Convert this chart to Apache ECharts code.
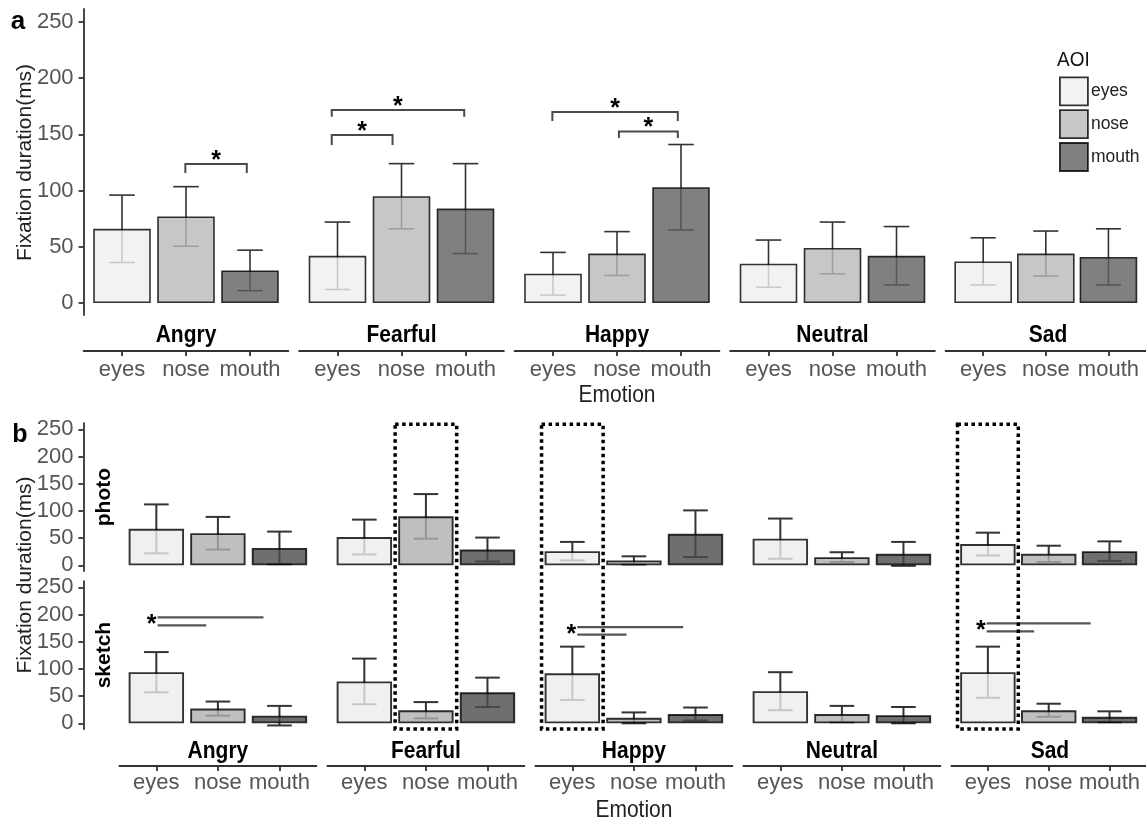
<!DOCTYPE html>
<html><head><meta charset="utf-8">
<script src="https://cdn.jsdelivr.net/npm/echarts@6/dist/echarts.min.js"></script>
<style>html,body{margin:0;padding:0;background:#fff}#c{width:1146px;height:823px}</style>
</head><body><div id="c"></div>
<script>
// ---------- data ----------
const emotions = ['Angry', 'Fearful', 'Happy', 'Neutral', 'Sad'];
const aois = ['eyes', 'nose', 'mouth'];
const yTicks = [0, 50, 100, 150, 200, 250];

// panel a (all stimuli): mean and error
const aEyesMean = [66, 42, 26, 35, 37];
const aEyesErr = [30, 30, 19, 21, 21];
const aNoseMean = [77, 95, 44, 49, 44];
const aNoseErr = [26.5, 29, 19.5, 23, 20];
const aMouthMean = [29, 84, 103, 42, 41];
const aMouthErr = [18, 40, 38, 26, 25];

// panel b, photo
const photoEyesMean = [67, 52, 26, 49, 39];
const photoEyesErr = [45, 32, 17, 37, 21];
const photoNoseMean = [59, 90, 9, 15, 21];
const photoNoseErr = [30, 41, 7.5, 9, 15];
const photoMouthMean = [32, 29, 58, 21, 26];
const photoMouthErr = [30, 22, 43, 22, 18];

// panel b, sketch
const sketchEyesMean = [94, 77, 92, 59, 94];
const sketchEyesErr = [37, 42, 49, 35, 47];
const sketchNoseMean = [27, 24, 10, 17, 24];
const sketchNoseErr = [13, 15, 10, 15, 12];
const sketchMouthMean = [14, 57, 17, 15, 12];
const sketchMouthErr = [18, 27, 12, 15, 10];

// significance brackets, panel a
const aSigFacet = [0, 1, 1, 2, 2];
const aSigX1 = [1.99, 0.91, 0.91, 0.99, 2.03];
const aSigX2 = [2.95, 1.86, 2.98, 2.95, 2.95];
const aSigY = [123.7, 149.5, 171.7, 169.9, 152.7];
const aSigDrop = [8, 9, 6, 8, 6];

// significance lines, panel b sketch row
const bSigFacet = [0, 2, 4];
const bSigX1 = [1.02, 1.08, 0.98];
const bSigUpX2 = [2.74, 2.80, 2.69];
const bSigUpY = [195, 177, 184];
const bSigLoX2 = [1.81, 1.88, 1.76];
const bSigLoY = [180, 163, 169];

// dotted highlight boxes (facet, AOI position)
const boxFacet = [1, 2, 4];
const boxAoi = [2, 1, 1];
const boxTop = 259.4;
const boxBottom = -10.5;

// ---------- style / layout ----------
const FONT = "'Liberation Sans', Arial, sans-serif";
const TICK_COLOR = '#555';
const AX_COLOR = '#333';
const Y_MIN = -10.7, Y_MAX = 261.6;
const A = { top: 9, height: 306, left0: 83.6, step: 215.5, width: 204.8, xOff: 36, barW: 57.6, margin: 7.5, border: 1.6, err: 1.6 };
const B = { left0: 119.4, step: 208, width: 197, xOff: 37, yOff: 36, barW: 55.4, margin: 5.5, border: 1.9, err: 2 };
const PH = { top: 423.1, height: 148 };
const SK = { top: 581.1, height: 148 };
const fillA = ['rgba(239,239,239,0.8)', 'rgba(185,185,185,0.8)', 'rgba(96,96,96,0.8)'];
const fillB = ['rgba(236,236,236,0.8)', 'rgba(175,175,175,0.8)', 'rgba(75,75,75,0.8)'];

const grids = [], xAxes = [], yAxes = [], series = [];

function errRender(lw) {
  return function (params, api) {
    const x = api.value(0), m = api.value(1), e = api.value(2);
    const top = api.coord([x, m + e]);
    const bot = api.coord([x, m - e]);
    const l = api.coord([x - 0.2, m])[0], r = api.coord([x + 0.2, m])[0];
    const st = { stroke: AX_COLOR, lineWidth: lw };
    return { type: 'group', children: [
      { type: 'line', shape: { x1: top[0], y1: top[1], x2: bot[0], y2: bot[1] }, style: st },
      { type: 'line', shape: { x1: l, y1: top[1], x2: r, y2: top[1] }, style: st },
      { type: 'line', shape: { x1: l, y1: bot[1], x2: r, y2: bot[1] }, style: st }
    ] };
  };
}

function addFacet(g, k, cfg, top, height, means, errs, fills, showX, showY) {
  grids.push({ left: cfg.left0 + k * cfg.step, top: top, width: cfg.width, height: height });
  xAxes.push({
    type: 'value', gridIndex: g, min: 0.4, max: 3.6, show: showX, offset: cfg.xOff,
    axisLine: { show: true, onZero: false, lineStyle: { color: AX_COLOR, width: 1.8 } },
    axisTick: { show: true, customValues: [1, 2, 3], length: 5, lineStyle: { color: AX_COLOR, width: 1.8 } },
    axisLabel: { customValues: [1, 2, 3], formatter: v => aois[Math.round(v) - 1], margin: cfg.margin,
      fontSize: 22, color: TICK_COLOR, fontFamily: FONT },
    splitLine: { show: false }
  });
  yAxes.push({
    type: 'value', gridIndex: g, min: Y_MIN, max: Y_MAX, show: showY, offset: cfg.yOff || 0,
    axisLine: { show: true, onZero: false, lineStyle: { color: AX_COLOR, width: 1.8 } },
    axisTick: { show: true, customValues: yTicks, length: 5, lineStyle: { color: AX_COLOR, width: 1.8 } },
    axisLabel: { customValues: yTicks, margin: 10, fontSize: 22, color: TICK_COLOR, fontFamily: FONT },
    splitLine: { show: false }
  });
  for (let j = 0; j < 3; j++) {
    series.push({
      type: 'bar', name: aois[j], xAxisIndex: g, yAxisIndex: g, silent: true, z: 2,
      barWidth: cfg.barW, barGap: '-100%',
      data: [[j + 1, means[j][k]]],
      itemStyle: { color: fills[j], borderColor: 'rgba(0,0,0,0.8)', borderWidth: cfg.border }
    });
  }
  series.push({
    type: 'custom', xAxisIndex: g, yAxisIndex: g, z: 1, silent: true,
    renderItem: errRender(cfg.err),
    data: [[1, means[0][k], errs[0][k]], [2, means[1][k], errs[1][k]], [3, means[2][k], errs[2][k]]]
  });
}

const aMeans = [aEyesMean, aNoseMean, aMouthMean], aErrs = [aEyesErr, aNoseErr, aMouthErr];
const pMeans = [photoEyesMean, photoNoseMean, photoMouthMean], pErrs = [photoEyesErr, photoNoseErr, photoMouthErr];
const sMeans = [sketchEyesMean, sketchNoseMean, sketchMouthMean], sErrs = [sketchEyesErr, sketchNoseErr, sketchMouthErr];

for (let k = 0; k < 5; k++) addFacet(k, k, A, A.top, A.height, aMeans, aErrs, fillA, true, k === 0);
for (let k = 0; k < 5; k++) addFacet(5 + k, k, B, PH.top, PH.height, pMeans, pErrs, fillB, false, k === 0);
for (let k = 0; k < 5; k++) addFacet(10 + k, k, B, SK.top, SK.height, sMeans, sErrs, fillB, true, k === 0);

// panel a brackets
for (let i = 0; i < aSigFacet.length; i++) {
  const g = aSigFacet[i];
  series.push({
    type: 'custom', xAxisIndex: g, yAxisIndex: g, z: 3, silent: true,
    data: [[aSigX1[i], aSigX2[i], aSigY[i], aSigDrop[i]]],
    renderItem: function (params, api) {
      const x1 = api.value(0), x2 = api.value(1), y = api.value(2), d = api.value(3);
      const p1 = api.coord([x1, y - d]), p2 = api.coord([x1, y]), p3 = api.coord([x2, y]), p4 = api.coord([x2, y - d]);
      return { type: 'group', children: [
        { type: 'polyline', shape: { points: [p1, p2, p3, p4] }, style: { stroke: '#4a4a4a', lineWidth: 2, fill: null } },
        { type: 'text', x: (p2[0] + p3[0]) / 2, y: p2[1] - 3,
          style: { text: '*', font: 'bold 25px ' + FONT, fill: '#000', align: 'center', verticalAlign: 'middle' } }
      ] };
    }
  });
}
// panel b sketch sig lines
for (let i = 0; i < bSigFacet.length; i++) {
  const g = 10 + bSigFacet[i];
  series.push({
    type: 'custom', xAxisIndex: g, yAxisIndex: g, z: 3, silent: true,
    data: [[bSigX1[i], bSigUpX2[i], bSigUpY[i], bSigLoX2[i], bSigLoY[i]]],
    renderItem: function (params, api) {
      const x1 = api.value(0);
      const u1 = api.coord([x1, api.value(2)]), u2 = api.coord([api.value(1), api.value(2)]);
      const l1 = api.coord([x1, api.value(4)]), l2 = api.coord([api.value(3), api.value(4)]);
      const st = { stroke: '#555', lineWidth: 2.2 };
      return { type: 'group', children: [
        { type: 'line', shape: { x1: u1[0], y1: u1[1], x2: u2[0], y2: u2[1] }, style: st },
        { type: 'line', shape: { x1: l1[0], y1: l1[1], x2: l2[0], y2: l2[1] }, style: st },
        { type: 'text', x: u1[0] - 1, y: (u1[1] + l1[1]) / 2 + 4,
          style: { text: '*', font: 'bold 25px ' + FONT, fill: '#000', align: 'right', verticalAlign: 'middle' } }
      ] };
    }
  });
}

// ---------- texts ----------
const texts = [];
function txt(id, s, x, y, font, fill, align, rot, sy) {
  texts.push({ type: 'text', id: id, x: x, y: y, rotation: rot || 0, scaleY: sy || 1, silent: true, z: 10,
    style: { text: s, font: font, fill: fill, align: align || 'center', verticalAlign: 'middle' } });
}
txt('lab_a', 'a', 18, 21.5, 'bold 26px ' + FONT, '#000');
txt('lab_b', 'b', 20, 435, 'bold 25px ' + FONT, '#000');
txt('ytA', 'Fixation duration(ms)', 25, 162.5, '21px ' + FONT, '#222', 'center', Math.PI / 2);
txt('ytB', 'Fixation duration(ms)', 25, 575, '21px ' + FONT, '#222', 'center', Math.PI / 2);
for (let k = 0; k < 5; k++) {
  txt('stA' + k, emotions[k], A.left0 + k * A.step + A.width / 2, 336, 'bold 21px ' + FONT, '#000', 'center', 0, 1.1);
  txt('stB' + k, emotions[k], B.left0 + k * B.step + B.width / 2, 752, 'bold 21px ' + FONT, '#000', 'center', 0, 1.1);
}
txt('emA', 'Emotion', (A.left0 + A.left0 + 4 * A.step + A.width) / 2, 395.5, '21px ' + FONT, '#222', 'center', 0, 1.1);
txt('emB', 'Emotion', (B.left0 + B.left0 + 4 * B.step + B.width) / 2, 810.5, '21px ' + FONT, '#222', 'center', 0, 1.1);
txt('rowP', 'photo', 104, PH.top + PH.height / 2, 'bold 21px ' + FONT, '#000', 'center', Math.PI / 2);
txt('rowS', 'sketch', 104, SK.top + SK.height / 2, 'bold 21px ' + FONT, '#000', 'center', Math.PI / 2);
txt('aoi', 'AOI', 1057, 60, '19px ' + FONT, '#111', 'left', 0, 1.1);

const chart = echarts.init(document.getElementById('c'), null, { renderer: 'canvas' });
chart.setOption({
  animation: false,
  backgroundColor: '#fff',
  grid: grids, xAxis: xAxes, yAxis: yAxes, series: series,
  legend: {
    orient: 'vertical', left: 1059, top: 76.5, padding: 0, itemWidth: 28, itemHeight: 28, itemGap: 3,
    selectedMode: false, icon: 'rect',
    textStyle: { fontSize: 17.5, fontFamily: FONT, color: '#222', padding: [0, 0, 0, -2] },
    data: aois.map((n, j) => ({ name: n, itemStyle: { color: fillA[j], borderColor: 'rgba(0,0,0,0.8)', borderWidth: 1.8 } }))
  },
  graphic: { elements: texts }
});

// dotted highlight boxes spanning photo + sketch rows
const rects = [];
for (let i = 0; i < boxFacet.length; i++) {
  const gp = 5 + boxFacet[i], gs = 10 + boxFacet[i];
  const p0 = chart.convertToPixel({ xAxisIndex: gp, yAxisIndex: gp }, [boxAoi[i] - 0.5, boxTop]);
  const p1 = chart.convertToPixel({ xAxisIndex: gs, yAxisIndex: gs }, [boxAoi[i] + 0.5, boxBottom]);
  rects.push({ type: 'rect', id: 'box' + i, silent: true, z: 20,
    shape: { x: p0[0], y: p0[1], width: p1[0] - p0[0], height: p1[1] - p0[1] },
    style: { fill: null, stroke: '#000', lineWidth: 3.5, lineDash: [3.5, 3.5] } });
}
chart.setOption({ graphic: { elements: texts.concat(rects) } });
</script>
</body></html>
